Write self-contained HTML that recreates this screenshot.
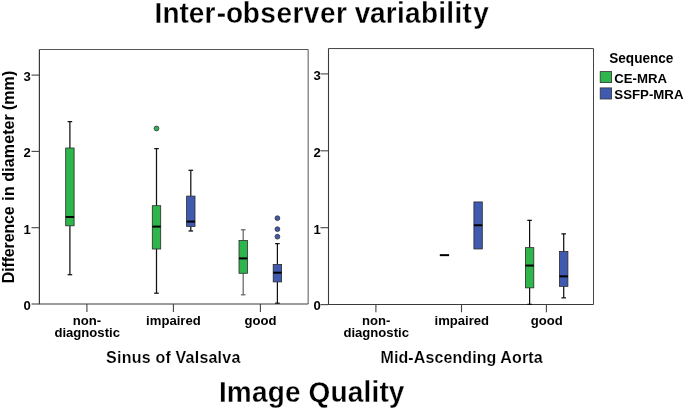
<!DOCTYPE html>
<html><head><meta charset="utf-8"><title>Inter-observer variability</title>
<style>
html,body{margin:0;padding:0;background:#fff;}
body{width:685px;height:409px;overflow:hidden;}
svg{display:block;font-family:"Liberation Sans",Arial,sans-serif;font-weight:bold;fill:#000;}
.t13{font-size:13.1px;}
.t16{font-size:16px;}
.t28{font-size:28px;}
.thin{stroke:#fff;stroke-width:0.28px;}
.thin2{stroke:#fff;stroke-width:0.16px;}
</style></head><body>
<svg width="685" height="409" viewBox="0 0 685 409">
<rect width="685" height="409" fill="#fff"/>
<path d="M39.4 49.5H308.15V304.0" fill="none" stroke="#555" stroke-width="1"/>
<path d="M39.4 49.5V304.0H308.15" fill="none" stroke="#3a3a3a" stroke-width="1.2"/>
<path d="M328.5 48.55H593.5V304.55" fill="none" stroke="#444" stroke-width="1"/>
<path d="M328.5 48.55V304.55H593.5" fill="none" stroke="#3a3a3a" stroke-width="1.1"/>
<line x1="31.5" y1="304.0" x2="39.4" y2="304.0" stroke="#444" stroke-width="1.1"/>
<text x="30.9" y="310.0" text-anchor="end" class="t13">0</text>
<line x1="320.5" y1="304.6" x2="328.5" y2="304.6" stroke="#444" stroke-width="1.1"/>
<text x="320.7" y="310.4" text-anchor="end" class="t13">0</text>
<line x1="31.5" y1="227.7" x2="39.4" y2="227.7" stroke="#444" stroke-width="1.1"/>
<text x="30.9" y="233.7" text-anchor="end" class="t13">1</text>
<line x1="320.5" y1="227.7" x2="328.5" y2="227.7" stroke="#444" stroke-width="1.1"/>
<text x="320.7" y="233.5" text-anchor="end" class="t13">1</text>
<line x1="31.5" y1="151.4" x2="39.4" y2="151.4" stroke="#444" stroke-width="1.1"/>
<text x="30.9" y="157.4" text-anchor="end" class="t13">2</text>
<line x1="320.5" y1="150.8" x2="328.5" y2="150.8" stroke="#444" stroke-width="1.1"/>
<text x="320.7" y="156.7" text-anchor="end" class="t13">2</text>
<line x1="31.5" y1="75.1" x2="39.4" y2="75.1" stroke="#444" stroke-width="1.1"/>
<text x="30.9" y="81.1" text-anchor="end" class="t13">3</text>
<line x1="320.5" y1="73.9" x2="328.5" y2="73.9" stroke="#444" stroke-width="1.1"/>
<text x="320.7" y="79.8" text-anchor="end" class="t13">3</text>
<line x1="86.9" y1="304.0" x2="86.9" y2="312" stroke="#444" stroke-width="1.1"/>
<text x="86.9" y="325.0" text-anchor="middle" class="t13">non-</text>
<text x="87.2" y="337.1" text-anchor="middle" class="t13">diagnostic</text>
<line x1="173.4" y1="304.0" x2="173.4" y2="312" stroke="#444" stroke-width="1.1"/>
<text x="173.4" y="325.0" text-anchor="middle" class="t13">impaired</text>
<line x1="260.4" y1="304.0" x2="260.4" y2="312" stroke="#444" stroke-width="1.1"/>
<text x="260.4" y="325.0" text-anchor="middle" class="t13">good</text>
<line x1="375.9" y1="304.55" x2="375.9" y2="312.3" stroke="#444" stroke-width="1.1"/>
<text x="376.2" y="325.4" text-anchor="middle" class="t13">non-</text>
<text x="376.2" y="337.1" text-anchor="middle" class="t13">diagnostic</text>
<line x1="461.5" y1="304.55" x2="461.5" y2="312.3" stroke="#444" stroke-width="1.1"/>
<text x="461.8" y="325.4" text-anchor="middle" class="t13">impaired</text>
<line x1="546.4" y1="304.55" x2="546.4" y2="312.3" stroke="#444" stroke-width="1.1"/>
<text x="546.7" y="325.4" text-anchor="middle" class="t13">good</text>
<g transform="translate(0 0.3)"><line x1="69.9" y1="121.3" x2="69.9" y2="147.7" stroke="#111" stroke-width="1.25"/><line x1="67.6" y1="121.3" x2="72.2" y2="121.3" stroke="#111" stroke-width="1.25"/><line x1="69.9" y1="225.5" x2="69.9" y2="274.4" stroke="#111" stroke-width="1.25"/><line x1="67.6" y1="274.4" x2="72.2" y2="274.4" stroke="#111" stroke-width="1.25"/><rect x="65.70" y="147.7" width="8.40" height="77.80" fill="#2eb64c" stroke="#2a2a2a" stroke-width="0.8"/><line x1="65.70" y1="216.7" x2="74.10" y2="216.7" stroke="#000" stroke-width="2"/>
<circle cx="156.5" cy="128.2" r="2.4" fill="#2eb64c" stroke="#333" stroke-width="0.8"/>
<line x1="156.5" y1="148.3" x2="156.5" y2="205.4" stroke="#111" stroke-width="1.25"/><line x1="154.2" y1="148.3" x2="158.8" y2="148.3" stroke="#111" stroke-width="1.25"/><line x1="156.5" y1="248.7" x2="156.5" y2="292.9" stroke="#111" stroke-width="1.25"/><line x1="154.2" y1="292.9" x2="158.8" y2="292.9" stroke="#111" stroke-width="1.25"/><rect x="152.30" y="205.4" width="8.40" height="43.30" fill="#2eb64c" stroke="#2a2a2a" stroke-width="0.8"/><line x1="152.30" y1="226.3" x2="160.70" y2="226.3" stroke="#000" stroke-width="2"/>
<line x1="190.8" y1="170.0" x2="190.8" y2="195.8" stroke="#111" stroke-width="1.25"/><line x1="188.5" y1="170.0" x2="193.1" y2="170.0" stroke="#111" stroke-width="1.25"/><line x1="190.8" y1="226.1" x2="190.8" y2="230.7" stroke="#111" stroke-width="1.25"/><line x1="188.5" y1="230.7" x2="193.1" y2="230.7" stroke="#111" stroke-width="1.25"/><rect x="186.60" y="195.8" width="8.40" height="30.30" fill="#3f5aae" stroke="#2a2a2a" stroke-width="0.8"/><line x1="186.60" y1="221.3" x2="195.00" y2="221.3" stroke="#000" stroke-width="2"/>
<line x1="243.2" y1="229.5" x2="243.2" y2="240.2" stroke="#666" stroke-width="1.25"/><line x1="240.9" y1="229.5" x2="245.5" y2="229.5" stroke="#666" stroke-width="1.25"/><line x1="243.2" y1="273.0" x2="243.2" y2="294.5" stroke="#666" stroke-width="1.25"/><line x1="240.9" y1="294.5" x2="245.5" y2="294.5" stroke="#666" stroke-width="1.25"/><rect x="239.00" y="240.2" width="8.40" height="32.80" fill="#2eb64c" stroke="#2a2a2a" stroke-width="0.8"/><line x1="239.00" y1="258.1" x2="247.40" y2="258.1" stroke="#000" stroke-width="2"/>
<circle cx="277.4" cy="217.9" r="2.4" fill="#3f5aae" stroke="#333" stroke-width="0.8"/>
<circle cx="277.4" cy="228.9" r="2.4" fill="#3f5aae" stroke="#333" stroke-width="0.8"/>
<circle cx="277.4" cy="236.4" r="2.4" fill="#3f5aae" stroke="#333" stroke-width="0.8"/>
<line x1="277.4" y1="243.3" x2="277.4" y2="264.2" stroke="#111" stroke-width="1.25"/><line x1="275.1" y1="243.3" x2="279.7" y2="243.3" stroke="#111" stroke-width="1.25"/><line x1="277.4" y1="281.6" x2="277.4" y2="302.9" stroke="#111" stroke-width="1.25"/><line x1="275.1" y1="302.9" x2="279.7" y2="302.9" stroke="#111" stroke-width="1.25"/><rect x="273.20" y="264.2" width="8.40" height="17.40" fill="#3f5aae" stroke="#2a2a2a" stroke-width="0.8"/><line x1="273.20" y1="272.4" x2="281.60" y2="272.4" stroke="#000" stroke-width="2"/>
</g><g transform="translate(0 0.35)"><line x1="439.8" y1="254.8" x2="449.1" y2="254.8" stroke="#000" stroke-width="2"/>
<rect x="473.90" y="201.6" width="8.40" height="47.00" fill="#3f5aae" stroke="#2a2a2a" stroke-width="0.8"/><line x1="473.90" y1="224.9" x2="482.30" y2="224.9" stroke="#000" stroke-width="2"/>
<line x1="529.6" y1="220.0" x2="529.6" y2="247.3" stroke="#111" stroke-width="1.25"/><line x1="527.3" y1="220.0" x2="531.9" y2="220.0" stroke="#111" stroke-width="1.25"/><line x1="529.6" y1="287.5" x2="529.6" y2="304.0" stroke="#111" stroke-width="1.25"/><line x1="527.3" y1="304.0" x2="531.9" y2="304.0" stroke="#111" stroke-width="1.25"/><rect x="525.40" y="247.3" width="8.40" height="40.20" fill="#2eb64c" stroke="#2a2a2a" stroke-width="0.8"/><line x1="525.40" y1="265.2" x2="533.80" y2="265.2" stroke="#000" stroke-width="2"/>
<line x1="563.7" y1="233.5" x2="563.7" y2="251.1" stroke="#111" stroke-width="1.25"/><line x1="561.4" y1="233.5" x2="566.0" y2="233.5" stroke="#111" stroke-width="1.25"/><line x1="563.7" y1="286.0" x2="563.7" y2="297.5" stroke="#111" stroke-width="1.25"/><line x1="561.4" y1="297.5" x2="566.0" y2="297.5" stroke="#111" stroke-width="1.25"/><rect x="559.50" y="251.1" width="8.40" height="34.90" fill="#3f5aae" stroke="#2a2a2a" stroke-width="0.8"/><line x1="559.50" y1="276.0" x2="567.90" y2="276.0" stroke="#000" stroke-width="2"/>
</g>
<text transform="translate(609.2 62.7) scale(1 1.05)" class="t13" style="font-size:13.6px">Sequence</text>
<rect x="600.2" y="71.6" width="11.4" height="11.0" fill="#2eb64c" stroke="#333" stroke-width="0.8"/>
<rect x="600.2" y="87.9" width="11.4" height="11.1" fill="#3f5aae" stroke="#333" stroke-width="0.8"/>
<text x="614.3" y="82.6" class="t13" style="font-size:13.2px">CE-MRA</text>
<text x="614.3" y="98.7" class="t13" style="font-size:13.25px">SSFP-MRA</text>
<text transform="translate(154.6 22.6) scale(1 1.04)" class="t28 thin" dx="0 0 0 0 0 1.4 0.1 -0.5 0.49 0.49 0.49 0.49 0.49 0.49 -0.11 0.28 -0.42 0.28 0.28 0.28 0.28 0.28 0.28 0.28 0.28 1.48">Inter-observer variability</text>
<text transform="translate(218.9 401.5) scale(1 1.04)" class="t28 thin" letter-spacing="0.17">Image Quality</text>
<text transform="translate(106.1 362.7) scale(1 1.03)" class="t16 thin2" letter-spacing="0.22">Sinus of Valsalva</text>
<text transform="translate(380.5 363.0) scale(1 1.03)" class="t16 thin2" letter-spacing="0.1">Mid-Ascending Aorta</text>
<text transform="translate(13.6 283.2) rotate(-90)" class="t16" dx="0 -0.16 -0.16 -0.16 -0.16 -0.16 -0.16 -0.16 -0.16 -0.16 1.14 0.1 0.1 0.1 0.1 0.1 0.1 0.1 0.1 0.1 0.1 0.1 0.1 -0.45 0.06 0.06 0.06">Difference in diameter (mm)</text>
</svg>
</body></html>
